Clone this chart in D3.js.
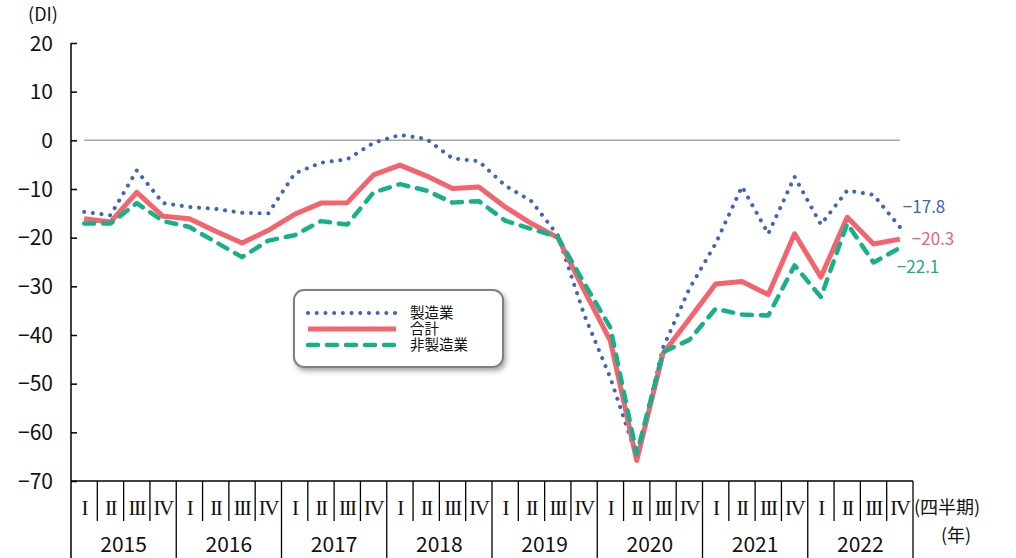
<!DOCTYPE html>
<html>
<head>
<meta charset="utf-8">
<script src="https://d3js.org/d3.v7.min.js"></script>
<style>
  body { margin: 0; background: #fff; }
  text { font-family: "Noto Sans CJK JP", "Noto Sans", sans-serif; }
  text.qlabel { font-family: "Liberation Serif", "DejaVu Serif", serif; }
</style>
</head>
<body>
<svg id="drawing_region"></svg>
<script>
// quarters 2015 I .. 2022 IV
const years = ["2015", "2016", "2017", "2018", "2019", "2020", "2021", "2022"];
const quarters = ["I", "II", "III", "IV"];
const yticks = [20, 10, 0, -10, -20, -30, -40, -50, -60, -70];

const seriesNames = ["製造業", "合計", "非製造業"];
const manufacturing = [-14.7, -15.4, -6.2, -12.9, -13.7, -14.1, -14.9, -15.0,
                       -6.8, -4.6, -3.9, -0.5, 1.1, 0.3, -3.7, -4.3,
                       -9.3, -12.5, -19.5, -35.8, -48.8, -65.0, -42.6, -30.5,
                       -21.2, -9.5, -19.2, -7.5, -17.3, -10.3, -11.2, -17.8];
const total = [-16.1, -16.8, -10.7, -15.6, -16.1, -18.7, -21.1, -18.5,
               -15.2, -12.9, -12.8, -7.1, -5.1, -7.3, -9.9, -9.6,
               -13.7, -17.1, -20.0, -30.8, -41.2, -65.8, -43.8, -36.7,
               -29.5, -29.0, -31.7, -19.2, -28.1, -15.8, -21.3, -20.3];
const nonManufacturing = [-17.1, -17.1, -12.9, -16.6, -17.8, -20.9, -24.0, -20.6,
                          -19.5, -16.6, -17.3, -10.7, -9.0, -10.3, -12.8, -12.5,
                          -16.5, -18.2, -19.9, -29.3, -38.5, -64.5, -43.5, -41.0,
                          -34.6, -35.8, -36.0, -25.7, -32.2, -17.1, -25.1, -22.1];

var config = {
    parent: '#drawing_region',
    width: 1016,
    height: 558,
    margin: {top: 43, right: 103, bottom: 77, left: 71}
};

const styles = [
    {color: '#4066b8', text: '#4064b4', width: 4, dash: '0.1 8.6', cap: 'round'},
    {color: '#f4646f', text: '#f0606e', width: 5, dash: null, cap: 'butt'},
    {color: '#17b088', text: '#18ab86', width: 4.5, dash: '10 9', cap: 'round'}
];

class LineChart {
    constructor(config, data) {
        this.config = config;
        this.data = data;
        this.init();
    }
    init() {
        let self = this;
        self.svg = d3.select(self.config.parent)
            .attr('width', self.config.width)
            .attr('height', self.config.height);
        self.inner_width = self.config.width - self.config.margin.left - self.config.margin.right;
        self.inner_height = self.config.height - self.config.margin.top - self.config.margin.bottom;
        self.chart = self.svg.append('g')
            .attr('transform', `translate(${self.config.margin.left}, ${self.config.margin.top})`);

        self.labels = [];
        years.forEach(y => quarters.forEach(q => self.labels.push(y + q)));

        self.xscale = d3.scaleBand()
            .domain(self.labels)
            .range([0, self.inner_width]);
        self.yscale = d3.scaleLinear()
            .domain([-70, 20])
            .range([self.inner_height, 0]);

        // shadow for the legend box
        const defs = self.svg.append('defs');
        const f = defs.append('filter').attr('id', 'shadow')
            .attr('x', '-10%').attr('y', '-20%').attr('width', '130%').attr('height', '150%');
        f.append('feDropShadow').attr('dx', 2).attr('dy', 3).attr('stdDeviation', 2.5)
            .attr('flood-color', '#000').attr('flood-opacity', 0.35);
        self.render();
    }
    render() {
        let self = this;
        const xs = self.xscale, ys = self.yscale;
        const cx = d => xs(d) + xs.bandwidth() / 2;

        // zero line
        self.chart.append('line')
            .attr('x1', cx(self.labels[0])).attr('x2', cx(self.labels[self.labels.length - 1]))
            .attr('y1', ys(0)).attr('y2', ys(0))
            .attr('stroke', '#a6a6a6').attr('stroke-width', 1.5);

        // y axis
        const yaxis = d3.axisRight(ys)
            .tickValues(yticks)
            .tickSize(6)
            .tickFormat('')
            .tickSizeOuter(0);
        const yg = self.chart.append('g').call(yaxis);
        yg.select('.domain').remove();
        yg.selectAll('line').attr('stroke', '#000').attr('stroke-width', 1.5);
        self.chart.append('line')
            .attr('x1', 0).attr('x2', 0)
            .attr('y1', 0).attr('y2', self.inner_height + self.config.margin.bottom)
            .attr('stroke', '#000').attr('stroke-width', 1.5);
        self.chart.selectAll('.ylabel')
            .data(yticks)
            .join('text')
            .attr('class', 'ylabel')
            .attr('x', -18)
            .attr('y', d => ys(d))
            .attr('dy', '0.36em')
            .attr('text-anchor', 'end')
            .attr('font-size', 21)
            .attr('fill', '#111')
            .text(d => d3.format('d')(d));
        self.chart.append('text')
            .attr('x', -28).attr('y', -28)
            .attr('dy', '0.36em')
            .attr('text-anchor', 'middle')
            .attr('font-size', 18)
            .attr('fill', '#111')
            .text('(DI)');

        // category table under the plot
        const H = self.inner_height;
        self.chart.append('line')
            .attr('x1', 0).attr('x2', self.inner_width)
            .attr('y1', H).attr('y2', H)
            .attr('stroke', '#000').attr('stroke-width', 1.5);
        self.chart.selectAll('.qsep')
            .data(self.labels.slice(1))
            .join('line')
            .attr('class', 'qsep')
            .attr('x1', d => xs(d)).attr('x2', d => xs(d))
            .attr('y1', H)
            .attr('y2', (d, i) => ((i + 1) % 4 === 0) ? self.config.height : H + 40)
            .attr('stroke', '#000').attr('stroke-width', 1.3);
        self.chart.append('line')
            .attr('x1', self.inner_width).attr('x2', self.inner_width)
            .attr('y1', H).attr('y2', self.config.height)
            .attr('stroke', '#000').attr('stroke-width', 1.3);
        self.chart.selectAll('.qlabel')
            .data(self.labels)
            .join('text')
            .attr('class', 'qlabel')
            .attr('x', d => cx(d))
            .attr('y', H + 27)
            .attr('dy', '0.33em')
            .attr('text-anchor', 'middle')
            .attr('font-size', 21)
            .attr('letter-spacing', -1.5)
            .attr('fill', '#111')
            .text((d, i) => quarters[i % 4]);
        self.chart.selectAll('.yrlabel')
            .data(years)
            .join('text')
            .attr('class', 'yrlabel')
            .attr('x', d => xs(d + 'I') + xs.bandwidth() * 2)
            .attr('y', H + 64)
            .attr('dy', '0.35em')
            .attr('text-anchor', 'middle')
            .attr('font-size', 21)
            .attr('fill', '#111')
            .text(d => d);
        self.chart.append('text')
            .attr('x', self.inner_width + 1).attr('y', H + 27).attr('dy', '0.35em')
            .attr('font-size', 18).attr('fill', '#111')
            .text('(四半期)');
        self.chart.append('text')
            .attr('x', self.inner_width + 43).attr('y', H + 55).attr('dy', '0.35em')
            .attr('text-anchor', 'middle')
            .attr('font-size', 18).attr('fill', '#111')
            .text('(年)');

        // lines
        const line = d3.line()
            .x((d, i) => cx(self.labels[i]))
            .y(d => ys(d));
        self.data.forEach((s, k) => {
            const st = styles[k];
            self.chart.append('path')
                .datum(s.values)
                .attr('d', line)
                .attr('fill', 'none')
                .attr('stroke', st.color)
                .attr('stroke-width', st.width)
                .attr('stroke-linecap', st.cap)
                .attr('stroke-linejoin', 'round')
                .attr('stroke-dasharray', st.dash);
        });

        // end value labels
        const endPos = [{dx: 3, dy: -20}, {dx: 12, dy: 0}, {dx: -3, dy: 19}];
        self.data.forEach((s, k) => {
            const last = s.values[s.values.length - 1];
            self.chart.append('text')
                .attr('x', cx(self.labels[self.labels.length - 1]) + endPos[k].dx)
                .attr('y', ys(last) + endPos[k].dy)
                .attr('dy', '0.35em')
                .attr('font-size', 17)
                .attr('fill', styles[k].text)
                .text(d3.format('.1f')(last));
        });

        // legend
        const lg = self.svg.append('g').attr('transform', 'translate(294, 290)');
        lg.append('rect')
            .attr('width', 209).attr('height', 77).attr('rx', 10)
            .attr('fill', '#fff').attr('stroke', '#808080').attr('stroke-width', 2)
            .attr('filter', 'url(#shadow)');
        self.data.forEach((s, k) => {
            const st = styles[k];
            const yy = 23 + k * 16;
            lg.append('line')
                .attr('x1', 14).attr('x2', 102)
                .attr('y1', yy).attr('y2', yy)
                .attr('stroke', st.color)
                .attr('stroke-width', st.width)
                .attr('stroke-linecap', st.cap)
                .attr('stroke-dasharray', st.dash);
            lg.append('text')
                .attr('x', 116).attr('y', yy).attr('dy', '0.35em')
                .attr('font-size', 14.5).attr('fill', '#111')
                .text(s.name);
        });
    }
}

const data = [
    {name: seriesNames[0], values: manufacturing},
    {name: seriesNames[1], values: total},
    {name: seriesNames[2], values: nonManufacturing}
];
const chart = new LineChart(config, data);
</script>
</body>
</html>
